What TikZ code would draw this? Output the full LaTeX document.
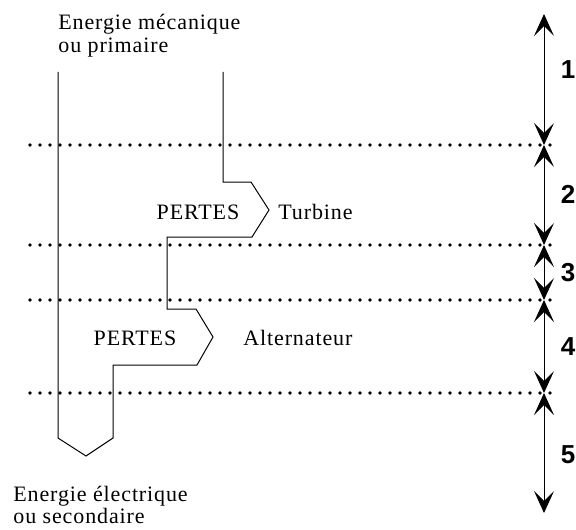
\documentclass[tikz,border=0pt]{standalone}
\usepackage{fontspec}
\setmainfont{Liberation Serif}[LetterSpace=4]
\newfontfamily\numfont{Liberation Sans}
\usetikzlibrary{arrows.meta}

\begin{document}
\begin{tikzpicture}[x=0.5pt,y=-0.5pt,
		every node/.style={font=\fontsize{11}{11.5}\selectfont, inner sep=0pt},
		dotline/.style={line width=1.8pt, line cap=round, dash pattern=on 0pt off 5pt},
		seg/.style={{Stealth[length=11pt,width=10pt,inset=5pt]}-{Stealth[length=11pt,width=10pt,inset=5pt]}, line width=0.5pt},
		num/.style={font=\numfont\bfseries\fontsize{13}{13}\selectfont}]
		\useasboundingbox (0,0) rectangle (576,529);
		% niveaux
		\foreach \y in {145,245,300,393}
			\draw[dotline] (30,\y) -- (555,\y);
		% axe
		\coordinate (a0) at (544,14);
		\coordinate (a1) at (544,145);
		\coordinate (a2) at (544,245);
		\coordinate (a3) at (544,300);
		\coordinate (a4) at (544,393);
		\coordinate (a5) at (544,513);
		\foreach \i/\j in {a0/a1,a1/a2,a2/a3,a3/a4,a4/a5}
			\draw[seg] (\i) -- (\j);
		\node[num] (n1) at (568,70) {1};
		\node[num] (n2) at (568,194) {2};
		\node[num] (n3) at (568,273) {3};
		\node[num] (n4) at (568,347) {4};
		\node[num] (n5) at (568,455) {5};
		% flux
		\draw[line width=0.5pt,line join=miter](223,72)--(223,182)--(251,182)--(269,210)--(252,237)--(167,237)--(167,309)--(196,309)--(213,337)--(197,365)--(113,365)--(113,438)--(86,456)--(58,438)--(58,72);
		% textes
		\node[anchor=north west, align=left] (meca) at (58,14) {Energie mécanique\\ou primaire};
		\node[anchor=north west, align=left, font=\fontsize{11}{10}\selectfont] (elec) at (13,486) {Energie électrique\\ou secondaire};
		\node (p1) at (198,212) {PERTES};
		\node[anchor=west] (turb) at (278,212) {Turbine};
		\node (p2) at (135,338) {PERTES};
		\node[anchor=west] (alt) at (243,338) {Alternateur};
	\end{tikzpicture}
\end{document}
